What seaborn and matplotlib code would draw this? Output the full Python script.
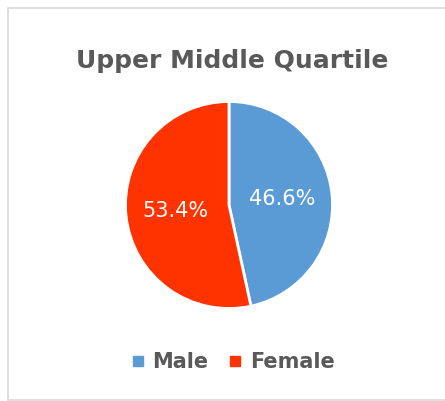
import matplotlib
matplotlib.use('Agg')
import matplotlib.pyplot as plt
from matplotlib.lines import Line2D
import seaborn as sns

# Chart data
labels = ['Male', 'Female']
shares = [46.6, 53.4]
colors = ['#5B9BD5', '#FF3300']
title = 'Upper Middle Quartile'

sns.set_theme(style='white')
plt.rcParams['font.family'] = ['DejaVu Sans']

W, H = 445, 401
fig = plt.figure(figsize=(W / 100, H / 100), dpi=100)

# light gray chart border: left, top and bottom only (right edge is cut off)
x0, y0, y1 = 7.5 / W, 1.5 / H, 1 - 7.5 / H
for xs, ys in [([x0, x0], [y0, y1]), ([x0, 1.01], [y1, y1]), ([x0, 1.01], [y0, y0])]:
    fig.add_artist(Line2D(xs, ys, transform=fig.transFigure,
                          color='#d9d9d9', linewidth=1.2))

# pie axes placed so the pie sits where it does in the reference
cx, cy, r = 229, 205, 103.5
ax = fig.add_axes([(cx - r) / W, (H - cy - r) / H, 2 * r / W, 2 * r / H])
wedges, texts, autotexts = ax.pie(
    shares, colors=colors, startangle=90, counterclock=False,
    autopct='%1.1f%%', pctdistance=0.52,
    wedgeprops=dict(edgecolor='white', linewidth=2),
    textprops=dict(color='white', fontsize=15))
ax.set_xlim(-1.0, 1.0)
ax.set_ylim(-1.0, 1.0)
ax.set_aspect('equal')

fig.text(232 / W, 1 - 61 / H, title, ha='center', va='center',
         fontsize=18, fontweight='bold', color='#595959')

handles = [Line2D([], [], marker='s', linestyle='', markersize=7,
                  markerfacecolor=c, markeredgecolor=c) for c in colors]
leg = fig.legend(handles, labels, loc='center', ncol=2,
                 bbox_to_anchor=(233 / W, 1 - 362 / H), frameon=False,
                 handlelength=0.6, handletextpad=0.4, columnspacing=1.0,
                 prop=dict(size=15, weight='bold'))
for t in leg.get_texts():
    t.set_color('#595959')

fig.savefig('out.png', dpi=100)
